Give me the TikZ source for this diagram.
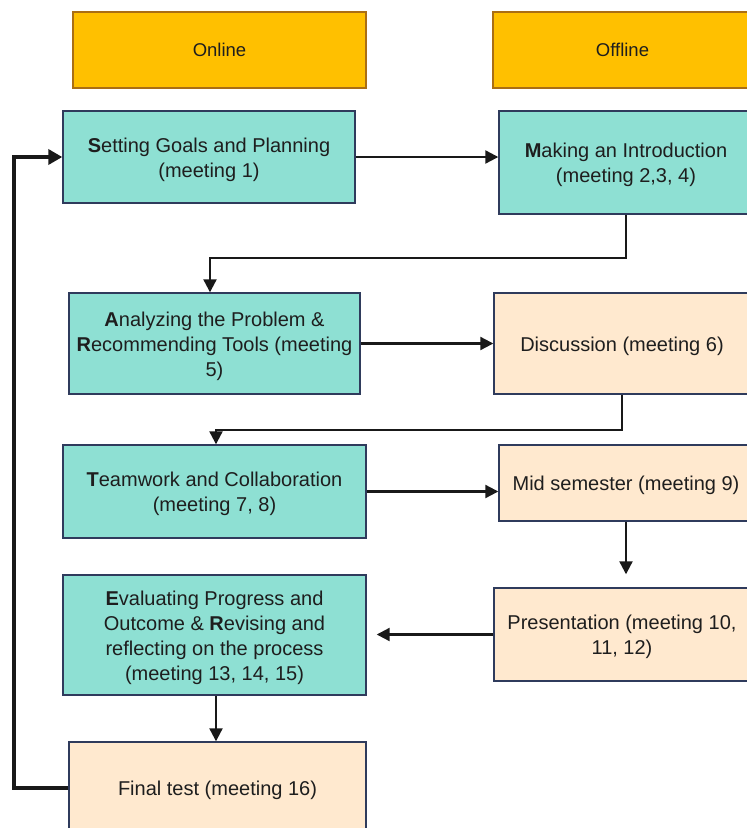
\documentclass[tikz,border=0pt]{standalone}
\usepackage{fontspec}
\setmainfont{Liberation Sans}
\usetikzlibrary{arrows.meta}
\definecolor{hdrfill}{RGB}{255,192,0}
\definecolor{hdrline}{RGB}{170,110,20}
\definecolor{teal}{RGB}{142,224,211}
\definecolor{peach}{RGB}{255,233,207}
\definecolor{boxline}{RGB}{47,59,92}
\definecolor{txt}{RGB}{30,30,30}
\newcommand{\btxt}[1]{\raisebox{-2.5pt}[\height][\depth]{\begin{tabular}{@{}c@{}}#1\end{tabular}}}
\tikzset{
  base/.style={rectangle, draw, line width=1.4pt, inner sep=2pt,
    text=txt, font=\fontsize{20}{25}\selectfont},
  hdr/.style={base, fill=hdrfill, draw=hdrline, font=\fontsize{18.5}{22}\selectfont},
  onbox/.style={base, fill=teal, draw=boxline},
  offbox/.style={base, fill=peach, draw=boxline},
  arr/.style={line width=2.2pt, draw=black!90, -{Triangle[length=13pt,width=13pt]}},
  looparr/.style={line width=4.5pt, draw=black!90, line join=miter, -{Triangle[length=14pt,width=15pt]}}
}
\begin{document}
\begin{tikzpicture}[x=1pt,y=-1pt]
\useasboundingbox (0,0) rectangle (747,828);
\clip (0,0) rectangle (747,828);
\fill[white] (0,0) rectangle (747,828);
% headers
\node[hdr, minimum width=293pt, minimum height=76pt] (on) at (219.5,50) {\btxt{Online}};
\node[hdr, minimum width=259pt, minimum height=76pt] (off) at (622.5,50) {\btxt{Offline}};
% steps
\node[onbox, minimum width=292pt, minimum height=92pt] (s1) at (209,157)
  {\btxt{\textbf{S}etting Goals and Planning\\(meeting 1)}};
\node[onbox, minimum width=254pt, minimum height=103pt] (mk) at (626,162.5)
  {\btxt{\textbf{M}aking an Introduction\\(meeting 2,3, 4)}};
\node[onbox, minimum width=291pt, minimum height=101pt] (an) at (214.5,343.5)
  {\btxt{\textbf{A}nalyzing the Problem \&\\\textbf{R}ecommending Tools (meeting\\5)}};
\node[offbox, minimum width=256pt, minimum height=101pt] (di) at (622,343.5)
  {\btxt{Discussion (meeting 6)}};
\node[onbox, minimum width=303pt, minimum height=93pt] (tw) at (214.5,491.5)
  {\btxt{\textbf{T}eamwork and Collaboration\\(meeting 7, 8)}};
\node[offbox, minimum width=254pt, minimum height=76pt] (ms) at (626,483)
  {\btxt{Mid semester (meeting 9)}};
\node[onbox, minimum width=303pt, minimum height=120pt] (ev) at (214.5,635)
  {\btxt{\textbf{E}valuating Progress and\\Outcome \& \textbf{R}evising and\\reflecting on the process\\(meeting 13, 14, 15)}};
\node[offbox, minimum width=256pt, minimum height=93pt] (pr) at (622,634.5)
  {\btxt{Presentation (meeting 10,\\11, 12)}};
\node[offbox, minimum width=297pt, minimum height=92pt] (ft) at (217.5,788)
  {\btxt{Final test (meeting 16)}};
% connectors
\coordinate (lp) at (14,0);
\coordinate (r1) at (0,258);
\coordinate (r2) at (0,430);
\draw[arr] (s1.east) -- (s1.east -| mk.west);
\draw[arr] (mk.south) -- (mk.south |- r1) -| ([xshift=-4.5pt]an.north);
\draw[arr] (an.east) -- (an.east -| di.west);
\draw[arr] (di.south) -- (di.south |- r2) -| ([xshift=1.5pt]tw.north);
\draw[arr] (tw.east) -- (tw.east -| ms.west);
\draw[arr, shorten >=13pt] (ms.south) -- (ms.south |- pr.north);
\draw[arr, shorten >=10pt] (pr.west) -- (pr.west -| ev.east);
\draw[arr] ([xshift=1.5pt]ev.south) -- ([xshift=1.5pt]ev.south |- ft.north);
\draw[looparr] (ft.west) -| (lp |- s1.west) -- (s1.west);
\end{tikzpicture}
\end{document}
